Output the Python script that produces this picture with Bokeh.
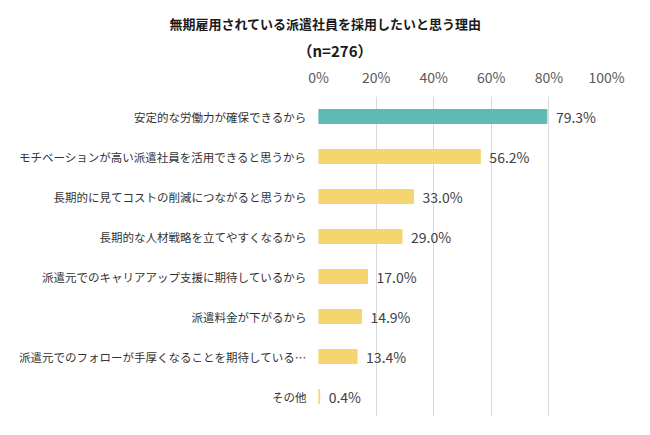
from bokeh.plotting import figure
from bokeh.models import FixedTicker, CustomJSTickFormatter, ColumnDataSource, Range1d, Title
from bokeh.core.properties import value
from bokeh.embed import file_html
from bokeh.resources import INLINE

title_line1 = "無期雇用されている派遣社員を採用したいと思う理由"
title_line2 = "（n=276）"

categories = [
    "安定的な労働力が確保できるから",
    "モチベーションが高い派遣社員を活用できると思うから",
    "長期的に見てコストの削減につながると思うから",
    "長期的な人材戦略を立てやすくなるから",
    "派遣元でのキャリアアップ支援に期待しているから",
    "派遣料金が下がるから",
    "派遣元でのフォローが手厚くなることを期待している…",
    "その他",
]
values = [79.3, 56.2, 33.0, 29.0, 17.0, 14.9, 13.4, 0.4]
x_ticks = [0, 20, 40, 60, 80, 100]

TEAL = "#5EBAB3"
YELLOW = "#F5D570"
colors = [TEAL] + [YELLOW] * (len(categories) - 1)
labels = ["%.1f%%" % v for v in values]

FONT = "Noto Sans CJK JP"

src = ColumnDataSource(dict(cat=categories, val=values, color=colors, lab=labels))

p = figure(
    width=640, height=425, title=None,
    y_range=list(reversed(categories)),
    x_range=Range1d(0, 100),
    x_axis_location="above",
    output_backend="svg", toolbar_location=None,
    min_border_left=318, min_border_right=34,
    min_border_top=96, min_border_bottom=9,
)
p.outline_line_color = None
p.background_fill_color = "white"
p.border_fill_color = "white"

p.hbar(y="cat", right="val", left=0, height=0.35, color="color", source=src)
p.text(x="val", y="cat", text="lab", source=src, x_offset=9,
       text_baseline="middle", text_align="left",
       text_font=value(FONT), text_font_size="14px", text_color="#404040")

xa = p.xaxis[0]
xa.ticker = FixedTicker(ticks=x_ticks)
xa.formatter = CustomJSTickFormatter(code="return tick + '%';")
xa.axis_line_color = None
xa.major_tick_line_color = None
xa.minor_tick_line_color = None
xa.major_label_text_font = FONT
xa.major_label_text_font_size = "14px"
xa.major_label_text_color = "#595959"
xa.major_label_standoff = 4

ya = p.yaxis[0]
ya.axis_line_color = None
ya.major_tick_line_color = None
ya.minor_tick_line_color = None
ya.major_tick_out = 0
ya.major_label_text_font = FONT
ya.major_label_text_font_size = "11.5px"
ya.major_label_text_color = "#333333"
ya.major_label_standoff = 12

p.xgrid.grid_line_color = "#D9D9D9"
p.ygrid.grid_line_color = None

# two-line title: the later one added sits farther from the plot
p.add_layout(Title(text=title_line2, align="left", offset=-21, standoff=5,
                   text_font=FONT, text_font_size="15px", text_font_style="bold",
                   text_color="#1a1a1a"), "above")
p.add_layout(Title(text=title_line1, align="left", offset=-149, standoff=6,
                   text_font=FONT, text_font_size="13px", text_font_style="bold",
                   text_color="#1a1a1a"), "above")

open("out.html", "w").write(file_html(p, INLINE))
